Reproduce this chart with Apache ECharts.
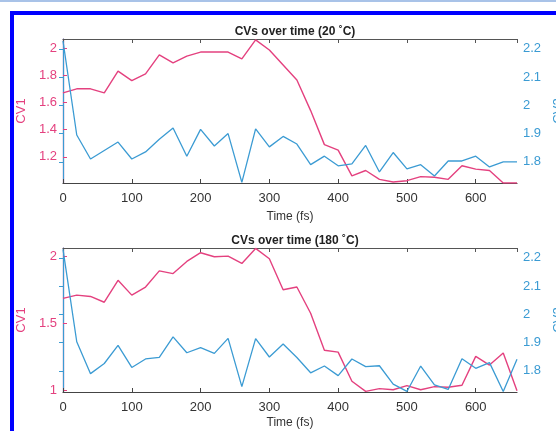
<!DOCTYPE html>
<html>
<head>
<meta charset="utf-8">
<script src="https://cdn.jsdelivr.net/npm/echarts@6/dist/echarts.min.js"></script>
<style>
  html, body { margin: 0; padding: 0; background: #fff; }
  #chart { width: 556px; height: 431px; }
</style>
</head>
<body>
<div id="chart"></div>
<script>
  // time axis (fs)
  var time = [0, 20, 40, 60, 80, 100, 120, 140, 160, 180, 200, 220, 240, 260, 280, 300, 320,
    340, 360, 380, 400, 420, 440, 460, 480, 500, 520, 540, 560, 580, 600, 620, 640, 660]
  var titles = ['CVs over time (20 \u02daC)', 'CVs over time (180 \u02daC)']

  // 20 C run
  var cv1At20 = [1.67, 1.70, 1.70, 1.67, 1.83, 1.76, 1.81, 1.95, 1.89, 1.94,
    1.97, 1.97, 1.97, 1.92, 2.06, 1.985, 1.875, 1.765, 1.54, 1.29,
    1.25, 1.06, 1.10, 1.035, 1.015, 1.025, 1.055, 1.05, 1.035, 1.135,
    1.11, 1.10, 1.008, 1.008]
  var cv2At20 = [2.228, 1.895, 1.81, 1.84, 1.87, 1.81, 1.835, 1.88, 1.92, 1.82,
    1.915, 1.856, 1.90, 1.727, 1.917, 1.853, 1.89, 1.863, 1.79, 1.82,
    1.786, 1.793, 1.858, 1.764, 1.833, 1.775, 1.79, 1.75, 1.803, 1.803,
    1.82, 1.782, 1.80, 1.80]

  // 180 C run
  var cv1At180 = [1.686, 1.71, 1.70, 1.657, 1.82, 1.71, 1.77, 1.89, 1.87, 1.96,
    2.025, 1.995, 2.0, 1.945, 2.057, 1.98, 1.75, 1.77, 1.575, 1.30,
    1.286, 1.07, 0.995, 1.015, 1.007, 1.037, 1.007, 1.03, 1.025, 1.04,
    1.255, 1.19, 1.28, 1.0]
  var cv2At180 = [2.23, 1.903, 1.79, 1.826, 1.89, 1.812, 1.842, 1.848, 1.92, 1.864,
    1.882, 1.862, 1.915, 1.744, 1.914, 1.849, 1.895, 1.847, 1.793, 1.817,
    1.783, 1.842, 1.815, 1.818, 1.753, 1.727, 1.817, 1.75, 1.734, 1.843,
    1.809, 1.829, 1.727, 1.841]

  var PINK = '#e4417f'
  var BLUE = '#3b9bd3'
  var FONT = 'Liberation Sans'

  function pairs (ys) {
    return time.map(function (t, i) { return [t, ys[i]] })
  }

  var chart = echarts.init(document.getElementById('chart'))

  var grids = [
    {left: 63, right: 39, top: 39, height: 144, containLabel: false, outerBoundsMode: 'none'},
    {left: 63, right: 39, top: 248, height: 144, containLabel: false, outerBoundsMode: 'none'},
  ]
  // left axis extents, right axis extents, splitNumber for left
  var leftExt = [[1.008, 2.066, 5], [0.99, 2.06, 2]]
  var rightExt = [[1.725, 2.235], [1.725, 2.235]]
  var timeNameGap = [28, 25]
  var runs = [[cv1At20, cv2At20], [cv1At180, cv2At180]]

  var xAxis = []
  var yAxis = []
  var series = []
  var titleList = []

  grids.forEach(function (g, i) {
    titleList.push({
      text: titles[i],
      left: 290,
      top: g.top - 18,
      textAlign: 'center',
      textStyle: {fontFamily: FONT, fontSize: 12, fontWeight: 'bold', color: '#222'},
    })
    // bottom x axis
    xAxis.push({
      type: 'value', gridIndex: i, min: 0, max: 660, interval: 100,
      name: 'Time (fs)', nameLocation: 'middle', nameGap: timeNameGap[i],
      nameTextStyle: {fontFamily: FONT, fontSize: 12, color: '#333'},
      axisLine: {lineStyle: {color: '#444', width: 1.2}},
      axisTick: {inside: true, length: 4, lineStyle: {color: '#444'}},
      axisLabel: {fontFamily: FONT, fontSize: 13, color: '#333', margin: 9, showMaxLabel: false},
      splitLine: {show: false},
    })
    // top box edge
    xAxis.push({
      type: 'value', gridIndex: i, min: 0, max: 660, interval: 100, position: 'top',
      axisLine: {lineStyle: {color: '#555', width: 1.2}},
      axisTick: {inside: true, length: 4, lineStyle: {color: '#555'}},
      axisLabel: {show: false},
      splitLine: {show: false},
    })
    yAxis.push({
      type: 'value', gridIndex: i, position: 'left',
      min: leftExt[i][0], max: leftExt[i][1], splitNumber: leftExt[i][2],
      name: 'CV1', nameLocation: 'middle', nameGap: 32,
      nameTextStyle: {fontFamily: FONT, fontSize: 13, color: PINK},
      axisLine: {lineStyle: {color: PINK, width: 1.2}},
      axisTick: {inside: true, length: 4, lineStyle: {color: PINK}},
      axisLabel: {fontFamily: FONT, fontSize: 13, color: PINK, margin: 6,
        showMinLabel: false, showMaxLabel: false},
      splitLine: {show: false},
    })
    yAxis.push({
      type: 'value', gridIndex: i, position: 'right',
      min: rightExt[i][0], max: rightExt[i][1], splitNumber: 5,
      name: 'CV2', nameLocation: 'middle', nameGap: 33, nameRotate: 90,
      nameTextStyle: {fontFamily: FONT, fontSize: 13, color: BLUE},
      axisLine: {lineStyle: {color: BLUE, width: 1.2}},
      axisTick: {inside: true, length: 4, lineStyle: {color: BLUE}},
      axisLabel: {fontFamily: FONT, fontSize: 13, color: BLUE, margin: 6,
        showMinLabel: false, showMaxLabel: false},
      splitLine: {show: false},
    })
    series.push({
      type: 'line', xAxisIndex: i * 2, yAxisIndex: i * 2,
      data: pairs(runs[i][0]), symbol: 'none', silent: true,
      lineStyle: {color: PINK, width: 1.4},
    })
    series.push({
      type: 'line', xAxisIndex: i * 2, yAxisIndex: i * 2 + 1,
      data: pairs(runs[i][1]), symbol: 'none', silent: true,
      lineStyle: {color: BLUE, width: 1.3},
    })
  })

  var option = {
    animation: false,
    backgroundColor: '#fff',
    title: titleList,
    grid: grids,
    xAxis: xAxis,
    yAxis: yAxis,
    series: series,
    graphic: [
      {type: 'rect', shape: {x: 0, y: 0, width: 556, height: 2}, style: {fill: '#a9c3e8'}},
      {type: 'rect', shape: {x: 10, y: 11, width: 546, height: 4}, style: {fill: '#0000ff'}},
      {type: 'rect', shape: {x: 10, y: 11, width: 4, height: 420}, style: {fill: '#0000ff'}},
    ],
  }
  chart.setOption(option)
</script>
</body>
</html>
